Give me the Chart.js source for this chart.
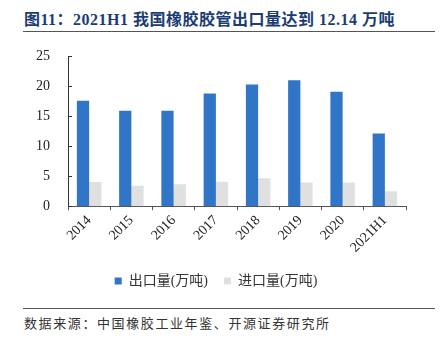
<!DOCTYPE html>
<html>
<head>
<meta charset="utf-8">
<script src="https://cdn.jsdelivr.net/npm/chart.js@4/dist/chart.umd.min.js"></script>
<style>
  body { margin: 0; background: #fff; width: 443px; height: 344px; overflow: hidden; position: relative; }
  #title { position: absolute; left: 24px; top: 6px; font: bold 16px "Liberation Serif", "Noto Sans CJK SC", serif; color: #1c3d73; white-space: nowrap; letter-spacing: 0.5px; }
  .rule { position: absolute; left: 23px; width: 412px; height: 1px; background: #555; }
  #chart-box { position: absolute; left: 0; top: 38px; width: 443px; height: 260px; }
  #source { position: absolute; left: 24px; top: 313px; font: 13px "Liberation Serif", "Noto Sans CJK SC", serif; color: #333; white-space: nowrap; letter-spacing: 1.6px; }
</style>
</head>
<body>
<div id="title">图11：2021H1 我国橡胶胶管出口量达到 12.14 万吨</div>
<div class="rule" style="top:31px"></div>
<div id="chart-box"><canvas id="chart"></canvas></div>
<div class="rule" style="top:308px"></div>
<div id="source">数据来源：中国橡胶工业年鉴、开源证券研究所</div>
<script>
const years = ['2014', '2015', '2016', '2017', '2018', '2019', '2020', '2021H1'];
const exportVol = [17.6, 15.95, 15.95, 18.8, 20.3, 21.0, 19.1, 12.14];
const importVol = [4.05, 3.4, 3.65, 4.1, 4.65, 3.95, 3.95, 2.5];
const yTicks = [0, 5, 10, 15, 20, 25];

// small inward tick marks on the y axis
const innerTicks = {
    id: 'innerTicks',
    afterDraw(chart) {
        const y = chart.scales.y;
        const ctx = chart.ctx;
        ctx.save();
        ctx.strokeStyle = '#333';
        ctx.lineWidth = 1;
        yTicks.forEach(v => {
            const py = Math.round(y.getPixelForValue(v)) + 0.5;
            ctx.beginPath();
            ctx.moveTo(y.right, py);
            ctx.lineTo(y.right + 4, py);
            ctx.stroke();
        });
        ctx.restore();
    }
};

const serif = '"Liberation Serif", "Noto Sans CJK SC", serif';

new Chart(document.getElementById('chart'), {
    type: 'bar',
    data: {
        labels: years,
        datasets: [
            { label: '出口量(万吨)', data: exportVol, backgroundColor: '#3075c6' },
            { label: '进口量(万吨)', data: importVol, backgroundColor: '#e0e0e0' }
        ]
    },
    options: {
        responsive: true,
        maintainAspectRatio: false,
        animation: false,
        datasets: { bar: { categoryPercentage: 0.58, barPercentage: 1 } },
        layout: { padding: { top: 8, right: 37, left: 26, bottom: 0 } },
        scales: {
            x: {
                grid: { display: true, drawOnChartArea: false, offset: true, tickLength: 4, color: '#555' },
                border: { color: '#555' },
                ticks: { font: { family: serif, size: 14 }, color: '#222', maxRotation: 45, minRotation: 45, padding: 2 }
            },
            y: {
                min: 0,
                max: 25,
                grid: { display: false },
                border: { color: '#333' },
                afterBuildTicks: axis => { axis.ticks = yTicks.map(v => ({ value: v })); },
                ticks: { font: { family: serif, size: 14 }, color: '#222', padding: 10 }
            }
        },
        plugins: {
            legend: {
                position: 'bottom',
                labels: { boxWidth: 7, boxHeight: 7, font: { family: serif, size: 14 }, color: '#333', padding: 16 }
            },
            tooltip: { enabled: false }
        }
    },
    plugins: [innerTicks]
});
</script>
</body>
</html>
